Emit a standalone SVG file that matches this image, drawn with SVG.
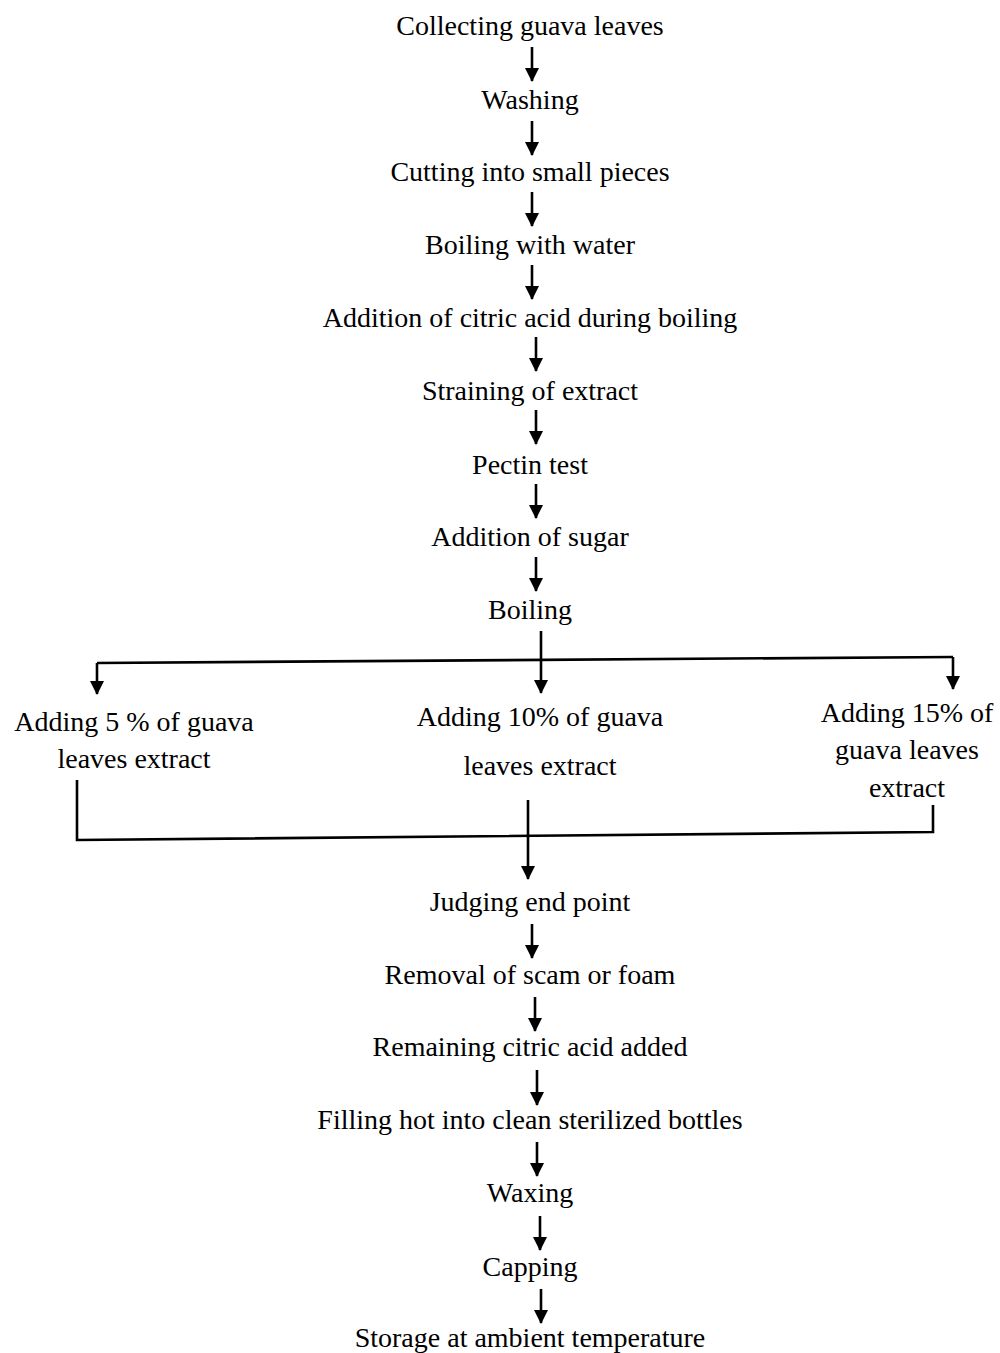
<svg xmlns="http://www.w3.org/2000/svg" width="1000" height="1353" viewBox="0 0 1000 1353">
<style>
text{font-family:"Liberation Serif","Times New Roman",serif;font-size:28px;fill:#000;text-anchor:middle}
.c line,.c path{stroke:#000;stroke-width:2.6;fill:none}
.a{marker-end:url(#ah)}
</style>
<defs>
<marker id="ah" markerUnits="userSpaceOnUse" markerWidth="16" markerHeight="16" refX="13" refY="7" orient="auto">
<path d="M0,0 L14,7 L0,14 Z" fill="#000" stroke="none"/>
</marker>
</defs>
<rect width="1000" height="1353" fill="#fff"/>
<g id="n1"><text x="530" y="35">Collecting guava leaves</text></g>
<g id="n2"><text x="530" y="109">Washing</text></g>
<g id="n3"><text x="530" y="181">Cutting into small pieces</text></g>
<g id="n4"><text x="530" y="254">Boiling with water</text></g>
<g id="n5"><text x="530" y="327">Addition of citric acid during boiling</text></g>
<g id="n6"><text x="530" y="400">Straining of extract</text></g>
<g id="n7"><text x="530" y="474">Pectin test</text></g>
<g id="n8"><text x="530" y="546">Addition of sugar</text></g>
<g id="n9"><text x="530" y="619">Boiling</text></g>
<g id="n10"><text x="134" y="731">Adding 5 % of guava</text><text x="134" y="768">leaves extract</text></g>
<g id="n11"><text x="540" y="726">Adding 10% of guava</text><text x="540" y="775">leaves extract</text></g>
<g id="n12"><text x="907" y="722">Adding 15% of</text><text x="907" y="759">guava leaves</text><text x="907" y="797">extract</text></g>
<g id="n13"><text x="530" y="911">Judging end point</text></g>
<g id="n14"><text x="530" y="984">Removal of scam or foam</text></g>
<g id="n15"><text x="530" y="1056">Remaining citric acid added</text></g>
<g id="n16"><text x="530" y="1129">Filling hot into clean sterilized bottles</text></g>
<g id="n17"><text x="530" y="1202">Waxing</text></g>
<g id="n18"><text x="530" y="1276">Capping</text></g>
<g id="n19"><text x="530" y="1347">Storage at ambient temperature</text></g>
<g id="connectors" class="c">
<line class="a" x1="532" y1="47" x2="532" y2="81"/>
<line class="a" x1="532" y1="121" x2="532" y2="155"/>
<line class="a" x1="532" y1="192" x2="532" y2="226"/>
<line class="a" x1="532" y1="265" x2="532" y2="299"/>
<line class="a" x1="536" y1="337" x2="536" y2="371"/>
<line class="a" x1="536" y1="410" x2="536" y2="444"/>
<line class="a" x1="536" y1="484" x2="536" y2="518"/>
<line class="a" x1="536" y1="557" x2="536" y2="591"/>
<line class="a" x1="541" y1="631" x2="541" y2="693"/>
<line x1="97" y1="663" x2="953" y2="657"/>
<line class="a" x1="97" y1="663" x2="97" y2="694"/>
<line class="a" x1="953" y1="657" x2="953" y2="689"/>
<path d="M77,780 L77,840 L933,832 L933,805"/>
<line class="a" x1="528" y1="800" x2="528" y2="879"/>
<line class="a" x1="532" y1="924" x2="532" y2="958"/>
<line class="a" x1="535" y1="997" x2="535" y2="1031"/>
<line class="a" x1="537" y1="1070" x2="537" y2="1105"/>
<line class="a" x1="537" y1="1142" x2="537" y2="1176"/>
<line class="a" x1="540" y1="1216" x2="540" y2="1250"/>
<line class="a" x1="541" y1="1289" x2="541" y2="1323"/>
</g>
</svg>
